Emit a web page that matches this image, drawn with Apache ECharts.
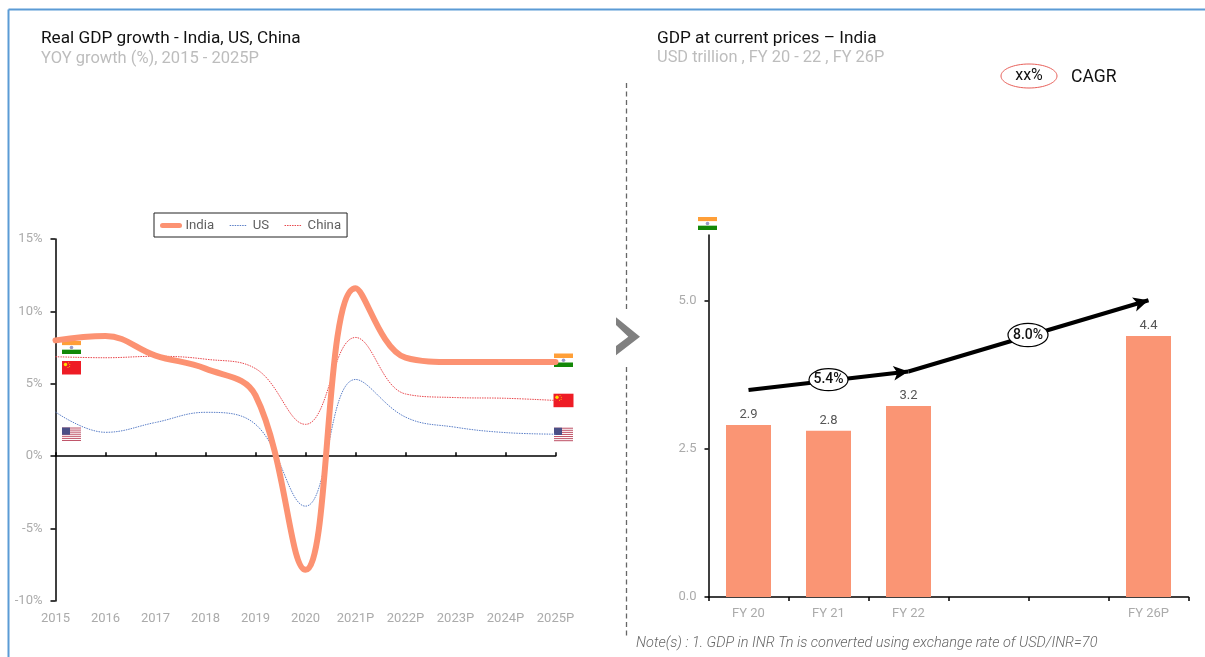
<!DOCTYPE html>
<html>
<head>
<meta charset="utf-8">
<style>html,body{margin:0;padding:0;background:#fff}#c{width:1205px;height:657px}</style>
<script src="https://cdn.jsdelivr.net/npm/echarts@6/dist/echarts.min.js"></script>
</head>
<body>
<div id="c"></div>
<script>
const years = ['2015','2016','2017','2018','2019','2020','2021P','2022P','2023P','2024P','2025P'];
const india = [8.0, 8.3, 6.95, 6.05, 4.2, -7.85, 11.6, 6.8, 6.5, 6.5, 6.5];
const us = [3.05, 1.65, 2.33, 3.03, 2.2, -3.45, 5.3, 2.7, 2.0, 1.63, 1.52];
const china = [6.87, 6.8, 6.9, 6.7, 6.05, 2.2, 8.2, 4.3, 4.05, 4.0, 3.85];
const fyLabels = ['FY 20','FY 21','FY 22','','','FY 26P'];
const gdp = [2.9, 2.8, 3.22, null, null, 4.4];
const gdpTicks = [0, 2.5, 5];
const cagrArrows = [
  [[0, 3.49], [2, 3.8]],
  [[2, 3.8], [5, 5.0]]
];

const FONT = 'Roboto, sans-serif';
const GREY = '#ababab';
const BLUE = '#5b9bd5';

function flag(kind, x, y, w, h) {
  const kids = [];
  const r = (rx, ry, rw, rh, fill) => kids.push({type:'rect', shape:{x:rx, y:ry, width:rw, height:rh}, style:{fill}, silent:true});
  if (kind === 'in') {
    r(0, 0, w, h/3, '#ff9f38'); r(0, h/3, w, h/3, '#fff'); r(0, 2*h/3, w, h/3, '#138808');
    kids.push({type:'circle', shape:{cx:w/2, cy:h/2, r:1.8}, style:{fill:'#9a9ac8'}, silent:true});
  } else if (kind === 'cn') {
    r(0, 0, w, h, '#ee1c25');
    kids.push({type:'circle', shape:{cx:3.5, cy:3.5, r:1.7}, style:{fill:'#ffde00'}, silent:true});
    [[6.5,1.8],[7.8,3.6],[7.6,5.5],[6,6.6]].forEach(p => kids.push({type:'circle', shape:{cx:p[0], cy:p[1], r:.5}, style:{fill:'#ffde00'}, silent:true}));
  } else {
    r(0, 0, w, h, '#fff');
    for (let i = 0; i < 7; i++) r(0, i*h/6.5, w, h/13, '#c0566a');
    r(0, 0, w*0.42, h*0.54, '#4b4f86');
  }
  return {type:'group', x, y, z:50, children:kids, silent:true};
}
function oval(cx, cy, rx, ry, text, stroke, lw, font) {
  return [
    {type:'ellipse', z:60, shape:{cx, cy, rx, ry}, style:{fill:'#fff', stroke, lineWidth:lw}, silent:true},
    {type:'text', z:61, x:cx, y:cy, style:{text, fill:'#111', font:font+' '+FONT, textAlign:'center', textVerticalAlign:'middle'}, silent:true}
  ];
}
const dash = (y1, y2) => ({type:'line', z:10, shape:{x1:626.5, y1, x2:626.5, y2}, style:{stroke:'#666', lineWidth:1.3, lineDash:[5,3.5]}, silent:true});
const heading = (text, left, top, size, color) => ({text, left, top, padding:0, textStyle:{fontFamily:FONT, fontSize:size, fontWeight:400, color}});
const thin = (name, color) => ({name, lineStyle:{width:1, color, type:[1.5,1]}});

const chart = echarts.init(document.getElementById('c'), null, {renderer:'canvas'});
chart.setOption({
  animation:false,
  backgroundColor:'#fff',
  title:[
    heading('Real GDP growth - India, US, China', 41, 30, 17.2, '#111'),
    heading('YOY growth (%), 2015 - 2025P', 41, 50, 16.5, '#bdbdbd'),
    heading('GDP at current prices \u2013 India', 657, 30, 17.2, '#111'),
    heading('USD trillion , FY 20 - 22 , FY 26P', 657, 50, 16.4, '#bdbdbd'),
    heading('CAGR', 1071, 69, 17.5, '#111'),
    {text:'Note(s) : 1. GDP in INR Tn is converted using exchange rate of USD/INR=70', left:636, top:636, padding:0, textStyle:{fontFamily:FONT, fontSize:14.5, fontWeight:300, fontStyle:'italic', color:'#666'}}
  ],
  legend:{
    left:154, top:213, orient:'horizontal',
    padding:[6,6,5,6], itemWidth:17, itemHeight:14, itemGap:15,
    borderColor:'#222', borderWidth:1, backgroundColor:'#fff',
    itemStyle:{opacity:0},
    textStyle:{fontFamily:FONT, fontSize:13.2, color:'#5f5f5f', padding:[0,0,0,1]},
    data:[{name:'India', lineStyle:{width:5, color:'#fc9272', cap:'round'}}, thin('US','#5b7fc7'), thin('China','#e8474c')]
  },
  grid:[
    {left:55.5, top:239, width:500, height:362},
    {left:708.5, top:235, width:480, height:362}
  ],
  xAxis:[
    {type:'category', gridIndex:0, data:years, boundaryGap:false, position:'bottom',
     axisLine:{show:false, onZero:false}, axisTick:{show:false},
     axisLabel:{fontFamily:FONT, fontSize:13, color:GREY, margin:11, interval:0}},
    {type:'category', gridIndex:0, data:years, boundaryGap:false,
     axisLine:{show:true, onZero:true, lineStyle:{color:'#000', width:1.5}},
     axisTick:{show:true, length:4, alignWithLabel:true, lineStyle:{color:'#000', width:1.5}},
     axisLabel:{show:false}},
    {type:'category', gridIndex:1, data:fyLabels,
     axisLine:{lineStyle:{color:'#000', width:1.5}},
     axisTick:{show:true, length:4, lineStyle:{color:'#000', width:1.5}},
     axisLabel:{fontFamily:FONT, fontSize:13, color:GREY, margin:10, interval:0}}
  ],
  yAxis:[
    {type:'value', gridIndex:0, min:-10, max:15, interval:5,
     axisLine:{show:true, onZero:false, lineStyle:{color:'#000', width:1.5}},
     axisTick:{show:true, length:5, lineStyle:{color:'#000', width:1.5}},
     splitLine:{show:false},
     axisLabel:{fontFamily:FONT, fontSize:13, color:GREY, margin:13, formatter:'{value}%'}},
    {type:'value', gridIndex:1, min:0, max:6.1,
     axisLine:{show:true, lineStyle:{color:'#000', width:1.5}},
     axisTick:{show:true, length:4, customValues:gdpTicks, lineStyle:{color:'#000', width:1.5}},
     splitLine:{show:false},
     axisLabel:{fontFamily:FONT, fontSize:13, color:GREY, margin:12, customValues:gdpTicks, formatter:v => v.toFixed(1)}}
  ],
  series:[
    {name:'US', type:'line', xAxisIndex:0, yAxisIndex:0, data:us, smooth:0.4, symbol:'none', z:3, lineStyle:{color:'#5b7fc7', width:1, type:[1.5,1]}, itemStyle:{color:'#5b7fc7'}},
    {name:'China', type:'line', xAxisIndex:0, yAxisIndex:0, data:china, smooth:0.4, symbol:'none', z:3, lineStyle:{color:'#e8474c', width:1, type:[1.5,1]}, itemStyle:{color:'#e8474c'}},
    {name:'India', type:'line', xAxisIndex:0, yAxisIndex:0, data:india, smooth:0.4, symbol:'none', z:4, lineStyle:{color:'#fc9272', width:6, cap:'round'}, itemStyle:{color:'#fc9272'}},
    {name:'GDP', type:'bar', xAxisIndex:2, yAxisIndex:1, data:gdp, barWidth:45,
     itemStyle:{color:'#fa9574'},
     label:{show:true, position:'top', distance:4, fontFamily:FONT, fontSize:13, color:'#555', formatter:p => p.value.toFixed(1)},
     markLine:{silent:true, symbol:['none','arrow'], symbolSize:[11,15], z:6, label:{show:false},
       lineStyle:{color:'#000', width:4, type:'solid'},
       data:cagrArrows.map(a => [{coord:a[0]},{coord:a[1]}]), animation:false}}
  ],
  graphic:[
    {type:'line', z:70, shape:{x1:8.5, y1:9.5, x2:1205, y2:9.5}, style:{stroke:BLUE, lineWidth:2}, silent:true},
    {type:'line', z:70, shape:{x1:8.5, y1:9.5, x2:8.5, y2:657}, style:{stroke:BLUE, lineWidth:2}, silent:true},
    dash(83, 312), dash(367, 637),
    {type:'polygon', z:10, shape:{points:[[616,317.3],[640,336.7],[616,355.3],[616,346],[628.3,336.7],[616,325]]}, style:{fill:'#808080'}, silent:true},
    flag('in', 62, 341, 19, 13), flag('cn', 62, 361, 19, 13.5), flag('us', 62, 427.5, 19, 13.5),
    flag('in', 554, 353.5, 19, 13.5), flag('cn', 553.5, 393.7, 20, 13.5), flag('us', 554, 427.7, 19, 13.5),
    flag('in', 698, 217, 19, 13),
    ...oval(828.5, 379.7, 19.5, 11, '5.4%', '#000', 1.2, '500 14px'),
    ...oval(1028, 335, 20, 11.7, '8.0%', '#000', 1.2, '500 14px'),
    ...oval(1029, 76, 28, 12, 'xx%', '#e8605a', 1, '400 16px')
  ]
});
</script>
</body>
</html>
